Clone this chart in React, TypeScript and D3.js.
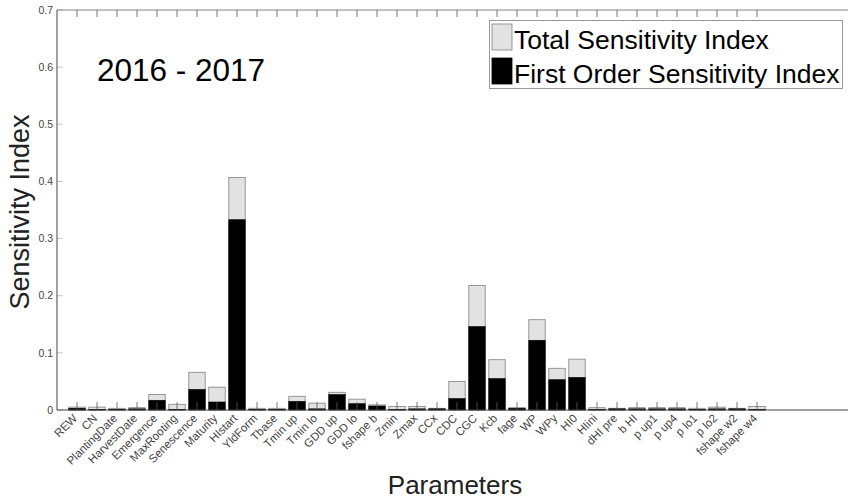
import React, { useEffect, useRef } from 'react';
import * as d3 from 'd3';

const parameters = [
  'REW', 'CN', 'PlantingDate', 'HarvestDate', 'Emergence', 'MaxRooting', 'Senescence', 'Maturity',
  'HIstart', 'YldForm', 'Tbase', 'Tmin up', 'Tmin lo', 'GDD up', 'GDD lo', 'fshape b', 'Zmin', 'Zmax',
  'CCx', 'CDC', 'CGC', 'Kcb', 'fage', 'WP', 'WPy', 'HI0', 'HIini', 'dHI pre', 'b HI', 'p up1', 'p up4',
  'p lo1', 'p lo2', 'fshape w2', 'fshape w4'
];

const totalIndex = [
  0.005, 0.005, 0.003, 0.004, 0.027, 0.010, 0.066, 0.040,
  0.407, 0.003, 0.003, 0.024, 0.012, 0.031, 0.019, 0.009, 0.006, 0.006,
  0.003, 0.050, 0.218, 0.088, 0.004, 0.158, 0.073, 0.089, 0.004, 0.003, 0.004, 0.004, 0.004,
  0.003, 0.005, 0.003, 0.006
];

const firstOrderIndex = [
  0.003, 0.001, 0.001, 0.002, 0.017, 0.001, 0.036, 0.014,
  0.333, 0.001, 0.001, 0.015, 0.002, 0.027, 0.011, 0.007, 0.001, 0.002,
  0.002, 0.020, 0.146, 0.055, 0.003, 0.122, 0.053, 0.057, 0.001, 0.002, 0.002, 0.002, 0.002,
  0.001, 0.002, 0.002, 0.001
];

const yTicks = [0, 0.1, 0.2, 0.3, 0.4, 0.5, 0.6, 0.7];
const legendLabels = ['Total Sensitivity Index', 'First Order Sensitivity Index'];

const FONT = '"Liberation Sans", Arial, Helvetica, sans-serif';

const App: React.FC = () => {
  const ref = useRef<SVGSVGElement>(null);

  useEffect(() => {
    if (!ref.current) return;
    const svg = d3.select(ref.current);
    svg.selectAll('*').remove();

    const x = d3.scaleLinear().domain([0, 40]).range([57, 857]);
    const y = d3.scaleLinear().domain([0, 0.7]).range([410, 10]);
    const barW = (x(1) - x(0)) * 0.82;
    const left = x(0), right = x(40), top = y(0.7), bottom = y(0);

    // total index bars (behind)
    svg.append('g')
      .selectAll('rect')
      .data(totalIndex)
      .join('rect')
      .attr('x', (_, i) => x(i + 1) - barW / 2)
      .attr('y', d => y(d))
      .attr('width', barW)
      .attr('height', d => y(0) - y(d))
      .attr('fill', '#e2e2e2')
      .attr('stroke', '#808080')
      .attr('stroke-width', 0.8);

    // first order bars
    svg.append('g')
      .selectAll('rect')
      .data(firstOrderIndex)
      .join('rect')
      .attr('x', (_, i) => x(i + 1) - barW / 2)
      .attr('y', d => y(d))
      .attr('width', barW)
      .attr('height', d => y(0) - y(d))
      .attr('fill', '#000')
      .attr('stroke', '#000')
      .attr('stroke-width', 0.6);

    // tick marks, pointing inwards
    const ticks = svg.append('g').attr('stroke', '#555').attr('stroke-width', 0.8);
    parameters.forEach((_, i) => {
      ticks.append('line')
        .attr('x1', x(i + 1)).attr('x2', x(i + 1))
        .attr('y1', bottom).attr('y2', bottom - 8);
      ticks.append('line')
        .attr('x1', x(i + 1)).attr('x2', x(i + 1))
        .attr('y1', top).attr('y2', top + 7);
    });
    yTicks.forEach(t => {
      ticks.append('line')
        .attr('x1', left).attr('x2', left + 6)
        .attr('y1', y(t)).attr('y2', y(t))
        .attr('stroke', '#bbb');
    });

    // axis lines
    svg.append('line')
      .attr('x1', left).attr('x2', right).attr('y1', top).attr('y2', top)
      .attr('stroke', '#666').attr('stroke-width', 0.8);
    svg.append('line')
      .attr('x1', left).attr('x2', right).attr('y1', bottom).attr('y2', bottom)
      .attr('stroke', '#444').attr('stroke-width', 1);
    svg.append('line')
      .attr('x1', left).attr('x2', left).attr('y1', top).attr('y2', bottom)
      .attr('stroke', '#444').attr('stroke-width', 1);

    // y tick labels
    svg.append('g')
      .selectAll('text')
      .data(yTicks)
      .join('text')
      .attr('x', left - 4)
      .attr('y', d => y(d))
      .attr('dy', '0.35em')
      .attr('text-anchor', 'end')
      .attr('font-family', FONT)
      .attr('font-size', 10.5)
      .attr('fill', '#444')
      .text(d => (d === 0 ? '0' : d.toFixed(1)));

    // x tick labels, rotated
    svg.append('g')
      .selectAll('text')
      .data(parameters)
      .join('text')
      .attr('transform', (_, i) => `translate(${x(i + 1) + 1},${bottom + 9}) rotate(-45)`)
      .attr('text-anchor', 'end')
      .attr('font-family', FONT)
      .attr('font-size', 11.5)
      .attr('fill', '#444')
      .text(d => d);

    // axis titles
    svg.append('text')
      .attr('transform', `translate(29,${(top + bottom) / 2 + 2}) rotate(-90)`)
      .attr('text-anchor', 'middle')
      .attr('font-family', FONT)
      .attr('font-size', 27)
      .attr('fill', '#222')
      .text('Sensitivity Index');

    svg.append('text')
      .attr('x', 455)
      .attr('y', 494)
      .attr('text-anchor', 'middle')
      .attr('font-family', FONT)
      .attr('font-size', 26)
      .attr('fill', '#222')
      .text('Parameters');

    // period annotation
    svg.append('text')
      .attr('x', 97)
      .attr('y', 81)
      .attr('font-family', FONT)
      .attr('font-size', 31.5)
      .attr('fill', '#000')
      .text('2016 - 2017');

    // legend
    const legend = svg.append('g');
    legend.append('rect')
      .attr('x', 489.5).attr('y', 20.5)
      .attr('width', 353).attr('height', 68)
      .attr('fill', '#fff')
      .attr('stroke', '#999')
      .attr('stroke-width', 1);
    const swatchFill = ['#e2e2e2', '#000'];
    legendLabels.forEach((label, i) => {
      legend.append('rect')
        .attr('x', 492).attr('y', 24 + i * 34)
        .attr('width', 20).attr('height', 26)
        .attr('fill', swatchFill[i])
        .attr('stroke', i === 0 ? '#808080' : '#000')
        .attr('stroke-width', 0.8);
      legend.append('text')
        .attr('x', 514).attr('y', 49 + i * 34)
        .attr('font-family', FONT)
        .attr('font-size', 26.5)
        .attr('fill', '#000')
        .text(label);
    });
  }, []);

  return (
    <svg
      ref={ref}
      width={848}
      height={501}
      style={{ position: 'absolute', left: 0, top: 0, background: '#fff' }}
    />
  );
};

export default App;
